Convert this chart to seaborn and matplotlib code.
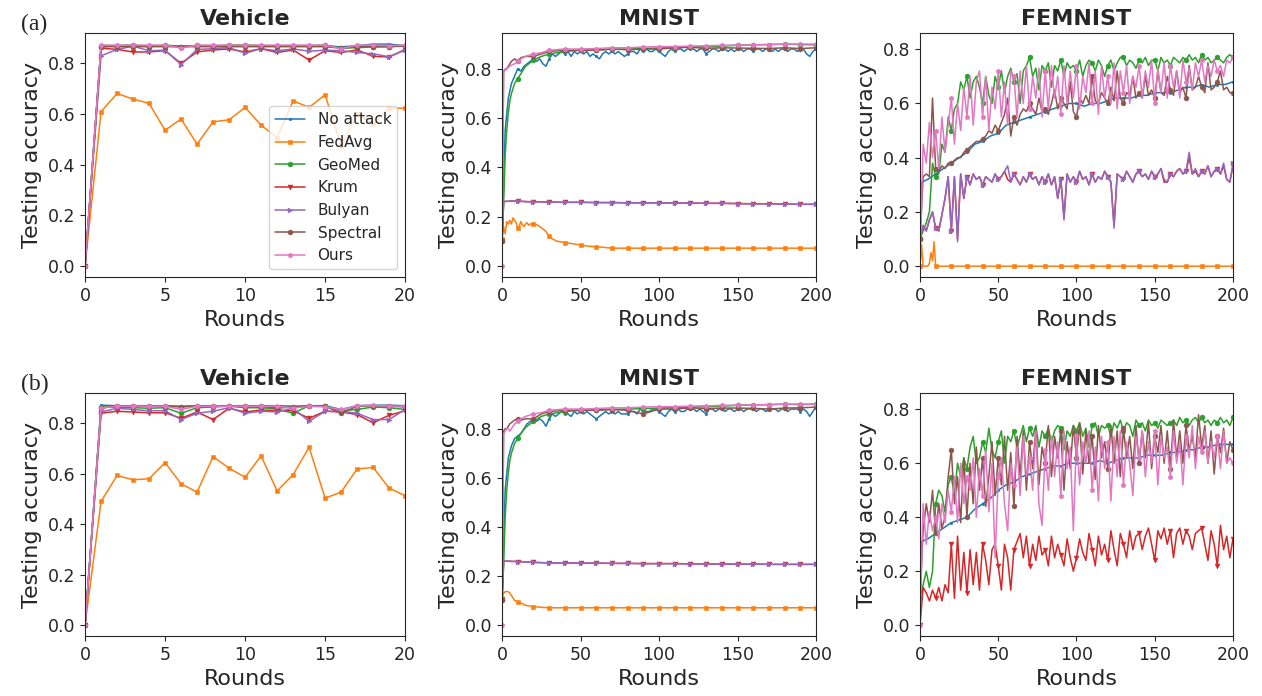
import matplotlib
matplotlib.use('Agg')
import matplotlib.pyplot as plt
import seaborn as sns

# ── series names / style ───────────────────────────────────────────────────────
methods = ['No attack', 'FedAvg', 'GeoMed', 'Krum', 'Bulyan', 'Spectral', 'Ours']
markers = ['.', 's', 'o', 'v', '>', 'o', 'p']

# ── Vehicle (rounds 0..20) ────────────────────────────────────────────────────
veh_rounds = list(range(21))

veh_a_noattack = [0, 0.870, 0.870, 0.870, 0.870, 0.870, 0.868, 0.870, 0.870, 0.870, 0.870,
                  0.870, 0.870, 0.870, 0.870, 0.870, 0.865, 0.870, 0.876, 0.876, 0.870]
veh_a_fedavg = [0, 0.609, 0.681, 0.659, 0.642, 0.536, 0.580, 0.481, 0.569, 0.577, 0.626,
                0.556, 0.507, 0.652, 0.626, 0.676, 0.474, 0.600, 0.560, 0.623, 0.623]
veh_a_geomed = [0, 0.865, 0.870, 0.873, 0.866, 0.873, 0.866, 0.871, 0.868, 0.872, 0.873,
                0.870, 0.868, 0.870, 0.870, 0.872, 0.860, 0.862, 0.865, 0.866, 0.870]
veh_a_krum = [0, 0.860, 0.855, 0.845, 0.845, 0.850, 0.800, 0.845, 0.853, 0.857, 0.845,
              0.858, 0.843, 0.853, 0.813, 0.850, 0.843, 0.853, 0.828, 0.825, 0.855]
veh_a_bulyan = [0, 0.830, 0.855, 0.868, 0.850, 0.852, 0.795, 0.855, 0.858, 0.862, 0.840,
                0.858, 0.850, 0.857, 0.848, 0.852, 0.850, 0.843, 0.838, 0.826, 0.852]
veh_a_spectral = [0, 0.866, 0.866, 0.866, 0.866, 0.866, 0.866, 0.866, 0.866, 0.866, 0.866,
                  0.866, 0.866, 0.866, 0.866, 0.866, 0.860, 0.866, 0.866, 0.866, 0.868]
veh_a_ours = [0, 0.872, 0.872, 0.872, 0.872, 0.872, 0.860, 0.872, 0.872, 0.872, 0.872,
              0.872, 0.872, 0.872, 0.872, 0.872, 0.858, 0.872, 0.872, 0.870, 0.872]

veh_b_noattack = [0, 0.872, 0.870, 0.870, 0.870, 0.870, 0.868, 0.870, 0.870, 0.870, 0.870,
                  0.870, 0.870, 0.868, 0.870, 0.870, 0.855, 0.870, 0.872, 0.872, 0.870]
veh_b_fedavg = [0, 0.490, 0.593, 0.576, 0.580, 0.644, 0.560, 0.527, 0.668, 0.622, 0.586,
                0.671, 0.532, 0.596, 0.705, 0.503, 0.527, 0.619, 0.625, 0.543, 0.513]
veh_b_geomed = [0, 0.865, 0.863, 0.862, 0.860, 0.862, 0.840, 0.862, 0.865, 0.868, 0.862,
                0.862, 0.857, 0.840, 0.870, 0.868, 0.850, 0.855, 0.865, 0.862, 0.855]
veh_b_krum = [0, 0.840, 0.848, 0.845, 0.842, 0.842, 0.820, 0.845, 0.815, 0.860, 0.845,
              0.853, 0.850, 0.850, 0.820, 0.848, 0.845, 0.835, 0.802, 0.832, 0.850]
veh_b_bulyan = [0, 0.845, 0.860, 0.855, 0.850, 0.850, 0.815, 0.840, 0.848, 0.862, 0.840,
                0.848, 0.845, 0.860, 0.808, 0.848, 0.848, 0.840, 0.815, 0.815, 0.855]
veh_b_spectral = [0, 0.860, 0.870, 0.868, 0.868, 0.868, 0.865, 0.868, 0.868, 0.868, 0.868,
                  0.868, 0.860, 0.865, 0.868, 0.868, 0.840, 0.868, 0.870, 0.868, 0.865]
veh_b_ours = [0, 0.860, 0.868, 0.868, 0.868, 0.868, 0.855, 0.868, 0.868, 0.868, 0.868,
              0.868, 0.868, 0.860, 0.868, 0.865, 0.855, 0.870, 0.872, 0.868, 0.868]

# ── MNIST / FEMNIST (rounds 0..200) ───────────────────────────────────────────
rounds_dense = list(range(0, 201, 2))
rounds_sparse = [0, 1, 2, 3, 4, 5, 6, 8, 10, 12, 15, 20, 25, 30, 40,
                 50, 60, 70, 80, 90, 100, 110, 120, 130, 140, 150, 160, 170, 180, 190, 200]
rounds_smooth = [0, 1, 5, 10, 15, 20, 25, 30, 35, 40, 45, 50, 55, 60, 65, 70, 75, 80, 85, 90, 95,
                 100, 105, 110, 115, 120, 125, 130, 135, 140, 145, 150, 155, 160, 165, 170, 175,
                 180, 185, 190, 195, 200]

mn_a_noattack = [0.10, 0.55, 0.68, 0.74, 0.77, 0.80, 0.79, 0.81, 0.82, 0.83,
                 0.84, 0.83, 0.84, 0.82, 0.81, 0.84, 0.86, 0.85, 0.86, 0.87,
                 0.86, 0.87, 0.85, 0.87, 0.86, 0.87, 0.86, 0.87, 0.85, 0.86,
                 0.85, 0.84, 0.86, 0.87, 0.86, 0.87, 0.86, 0.87, 0.86, 0.85,
                 0.86, 0.87, 0.87, 0.86, 0.88, 0.87, 0.88, 0.87, 0.87, 0.88,
                 0.87, 0.86, 0.85, 0.87, 0.88, 0.87, 0.88, 0.88, 0.87, 0.88,
                 0.88, 0.88, 0.87, 0.88, 0.88, 0.86, 0.87, 0.88, 0.88, 0.87,
                 0.88, 0.88, 0.87, 0.88, 0.87, 0.88, 0.88, 0.87, 0.88, 0.88,
                 0.87, 0.88, 0.88, 0.87, 0.88, 0.88, 0.87, 0.88, 0.87, 0.88,
                 0.88, 0.87, 0.88, 0.88, 0.87, 0.88, 0.88, 0.86, 0.85, 0.87,
                 0.88]
mn_a_fedavg_rounds = [0, 1, 2, 3, 4, 5, 6, 7, 8, 9, 10, 11, 12, 13, 14, 15, 16, 17, 18, 20,
                      22, 24, 26, 28, 30, 32, 35, 40, 45, 50, 55, 60, 65, 70,
                      80, 90, 100, 110, 120, 130, 140, 150, 160, 170, 180, 190, 200]
mn_a_fedavg = [0.11, 0.16, 0.13, 0.18, 0.17, 0.185, 0.17, 0.195, 0.185, 0.175, 0.155, 0.16,
               0.18, 0.165, 0.16, 0.17, 0.175, 0.165, 0.17, 0.17, 0.168, 0.16, 0.15, 0.14,
               0.12, 0.11, 0.10, 0.095, 0.09, 0.085, 0.08, 0.078, 0.075, 0.072,
               0.072, 0.072, 0.072, 0.072, 0.072, 0.072, 0.072, 0.072, 0.072, 0.072,
               0.072, 0.072, 0.072]
mn_a_geomed = [0.10, 0.25, 0.45, 0.55, 0.62, 0.67, 0.70, 0.74, 0.76, 0.78, 0.81, 0.835, 0.85,
               0.86, 0.87, 0.875, 0.877, 0.879, 0.88, 0.882, 0.884, 0.886, 0.888, 0.89, 0.892,
               0.895, 0.897, 0.898, 0.90, 0.898, 0.897]
mn_a_krum = [0.10, 0.26, 0.262, 0.262, 0.262, 0.263, 0.263, 0.263, 0.263, 0.262, 0.261, 0.26,
             0.26, 0.259, 0.258, 0.258, 0.257, 0.257, 0.256, 0.256, 0.256, 0.255, 0.255,
             0.254, 0.254, 0.253, 0.252, 0.252, 0.251, 0.25, 0.25]
mn_a_bulyan = [0.10, 0.26, 0.262, 0.262, 0.262, 0.263, 0.263, 0.263, 0.263, 0.262, 0.261, 0.26,
               0.26, 0.259, 0.258, 0.258, 0.257, 0.257, 0.256, 0.256, 0.256, 0.255, 0.255,
               0.254, 0.254, 0.253, 0.252, 0.252, 0.251, 0.25, 0.25]
mn_a_spectral = [0.10, 0.79, 0.795, 0.80, 0.81, 0.82, 0.83, 0.84, 0.83, 0.845, 0.85, 0.85, 0.86,
                 0.87, 0.875, 0.875, 0.875, 0.88, 0.877, 0.88, 0.88, 0.885, 0.887, 0.883,
                 0.885, 0.884, 0.883, 0.882, 0.885, 0.882, 0.885]
mn_a_ours = [0.0, 0.79, 0.80, 0.80, 0.805, 0.81, 0.815, 0.82, 0.83, 0.84, 0.85, 0.86, 0.865,
             0.875, 0.88, 0.88, 0.882, 0.885, 0.885, 0.888, 0.89, 0.89, 0.892, 0.893, 0.895,
             0.896, 0.897, 0.898, 0.90, 0.90, 0.90]

mn_b_noattack = [0.10, 0.55, 0.68, 0.73, 0.76, 0.77, 0.78, 0.80, 0.82, 0.83,
                 0.84, 0.83, 0.84, 0.83, 0.81, 0.84, 0.86, 0.85, 0.86, 0.87,
                 0.86, 0.86, 0.85, 0.87, 0.86, 0.87, 0.86, 0.87, 0.86, 0.85,
                 0.84, 0.85, 0.86, 0.87, 0.86, 0.87, 0.86, 0.87, 0.86, 0.86,
                 0.86, 0.87, 0.87, 0.86, 0.88, 0.87, 0.87, 0.87, 0.88, 0.88,
                 0.87, 0.86, 0.85, 0.87, 0.88, 0.87, 0.88, 0.87, 0.87, 0.88,
                 0.88, 0.88, 0.87, 0.88, 0.87, 0.86, 0.88, 0.88, 0.87, 0.88,
                 0.88, 0.87, 0.88, 0.88, 0.87, 0.88, 0.88, 0.87, 0.88, 0.88,
                 0.88, 0.87, 0.88, 0.88, 0.87, 0.88, 0.88, 0.88, 0.87, 0.88,
                 0.88, 0.87, 0.88, 0.88, 0.88, 0.87, 0.88, 0.87, 0.85, 0.87,
                 0.89]
mn_b_fedavg_rounds = [0, 1, 2, 3, 4, 5, 6, 7, 8, 10, 12, 15, 20, 25, 30,
                      40, 50, 60, 70, 80, 90, 100, 110, 120, 130, 140, 150, 160, 170, 180, 190, 200]
mn_b_fedavg = [0.11, 0.13, 0.135, 0.137, 0.135, 0.13, 0.12, 0.11, 0.10, 0.095, 0.09, 0.08,
               0.075, 0.072, 0.07, 0.07, 0.07, 0.07, 0.07, 0.07, 0.07, 0.07, 0.07, 0.07,
               0.07, 0.07, 0.07, 0.07, 0.07, 0.07, 0.07, 0.07]
mn_b_geomed = [0.10, 0.24, 0.44, 0.55, 0.62, 0.67, 0.70, 0.74, 0.76, 0.78, 0.805, 0.83, 0.85,
               0.86, 0.87, 0.875, 0.877, 0.879, 0.88, 0.882, 0.884, 0.886, 0.888, 0.89, 0.892,
               0.895, 0.897, 0.898, 0.90, 0.898, 0.90]
mn_b_krum = [0.10, 0.26, 0.26, 0.26, 0.26, 0.26, 0.259, 0.259, 0.258, 0.258, 0.257, 0.255,
             0.254, 0.253, 0.253, 0.252, 0.252, 0.251, 0.251, 0.25, 0.25, 0.25, 0.249, 0.249,
             0.248, 0.248, 0.248, 0.247, 0.247, 0.247, 0.247]
mn_b_bulyan = [0.10, 0.26, 0.26, 0.26, 0.26, 0.26, 0.259, 0.259, 0.258, 0.258, 0.257, 0.255,
               0.254, 0.253, 0.253, 0.252, 0.252, 0.251, 0.251, 0.25, 0.25, 0.25, 0.249, 0.249,
               0.248, 0.248, 0.248, 0.247, 0.247, 0.247, 0.247]
mn_b_spectral = [0.10, 0.79, 0.80, 0.80, 0.81, 0.82, 0.825, 0.835, 0.84, 0.835, 0.84, 0.84,
                 0.86, 0.87, 0.875, 0.875, 0.875, 0.878, 0.875, 0.86, 0.88, 0.88, 0.885,
                 0.882, 0.884, 0.884, 0.883, 0.88, 0.884, 0.885, 0.888]
mn_b_ours = [0.0, 0.78, 0.79, 0.80, 0.80, 0.79, 0.80, 0.82, 0.83, 0.84, 0.85, 0.86, 0.865,
             0.875, 0.88, 0.88, 0.882, 0.885, 0.885, 0.888, 0.89, 0.89, 0.892, 0.893, 0.895,
             0.896, 0.897, 0.898, 0.90, 0.90, 0.90]

fe_a_noattack = [0.10, 0.31, 0.32, 0.34, 0.36, 0.38, 0.40, 0.42, 0.45, 0.46, 0.48, 0.49, 0.52,
                 0.53, 0.54, 0.55, 0.56, 0.57, 0.58, 0.59, 0.60, 0.60, 0.59, 0.60, 0.60, 0.61,
                 0.62, 0.62, 0.62, 0.63, 0.63, 0.64, 0.64, 0.64, 0.65, 0.66, 0.66, 0.67, 0.66,
                 0.67, 0.67, 0.68]
fe_a_fedavg_rounds = [0, 1, 2, 3, 4, 5, 6, 7, 8, 9, 10, 20, 30, 40, 50, 60, 70, 80, 90, 100,
                      110, 120, 130, 140, 150, 160, 170, 180, 190, 200]
fe_a_fedavg = [0.0, 0.08, 0.0, 0.0, 0.0, 0.0, 0.01, 0.05, 0.02, 0.09, 0.0, 0.0, 0.0, 0.0, 0.0,
               0.0, 0.0, 0.0, 0.0, 0.0, 0.0, 0.0, 0.0, 0.0, 0.0, 0.0, 0.0, 0.0, 0.0, 0.0]
fe_a_geomed = [0.10, 0.13, 0.16, 0.20, 0.38, 0.33, 0.34, 0.45, 0.42, 0.55,
               0.50, 0.58, 0.60, 0.68, 0.65, 0.70, 0.62, 0.68, 0.70, 0.66,
               0.60, 0.70, 0.63, 0.60, 0.70, 0.66, 0.72, 0.64, 0.70, 0.73,
               0.68, 0.71, 0.60, 0.72, 0.74, 0.77, 0.70, 0.73, 0.65, 0.74,
               0.72, 0.75, 0.66, 0.74, 0.72, 0.76, 0.70, 0.75, 0.73, 0.74,
               0.72, 0.76, 0.70, 0.74, 0.76, 0.75, 0.72, 0.76, 0.74, 0.70,
               0.74, 0.76, 0.72, 0.75, 0.77, 0.77, 0.74, 0.76, 0.75, 0.73,
               0.76, 0.75, 0.77, 0.74, 0.76, 0.76, 0.72, 0.77, 0.75, 0.76,
               0.74, 0.77, 0.76, 0.75, 0.77, 0.76, 0.78, 0.76, 0.77, 0.75,
               0.78, 0.76, 0.77, 0.75, 0.76, 0.77, 0.76, 0.75, 0.77, 0.78,
               0.77]
fe_a_krum = [0.10, 0.15, 0.13, 0.17, 0.20, 0.14, 0.13, 0.19, 0.25, 0.33,
             0.13, 0.33, 0.10, 0.34, 0.25, 0.33, 0.30, 0.34, 0.32, 0.33,
             0.30, 0.33, 0.32, 0.31, 0.34, 0.32, 0.33, 0.35, 0.32, 0.31,
             0.34, 0.32, 0.30, 0.33, 0.31, 0.34, 0.32, 0.33, 0.30, 0.33,
             0.31, 0.34, 0.30, 0.33, 0.25, 0.32, 0.18, 0.34, 0.31, 0.33,
             0.31, 0.35, 0.32, 0.33, 0.30, 0.34, 0.31, 0.33, 0.32, 0.35,
             0.33, 0.31, 0.15, 0.34, 0.33, 0.32, 0.35, 0.33, 0.31, 0.34,
             0.35, 0.33, 0.34, 0.32, 0.35, 0.33, 0.34, 0.36, 0.31, 0.31,
             0.34, 0.33, 0.35, 0.36, 0.34, 0.35, 0.40, 0.34, 0.35, 0.33,
             0.35, 0.34, 0.37, 0.33, 0.35, 0.36, 0.34, 0.37, 0.32, 0.31,
             0.37]
fe_a_bulyan = [0.10, 0.15, 0.13, 0.17, 0.20, 0.14, 0.13, 0.19, 0.25, 0.33,
               0.13, 0.33, 0.09, 0.34, 0.25, 0.33, 0.30, 0.34, 0.32, 0.33,
               0.30, 0.33, 0.32, 0.31, 0.34, 0.32, 0.33, 0.35, 0.37, 0.31,
               0.34, 0.32, 0.30, 0.33, 0.31, 0.34, 0.32, 0.33, 0.30, 0.33,
               0.31, 0.34, 0.30, 0.33, 0.25, 0.32, 0.17, 0.34, 0.31, 0.33,
               0.31, 0.35, 0.32, 0.33, 0.30, 0.34, 0.31, 0.33, 0.32, 0.35,
               0.33, 0.31, 0.14, 0.34, 0.33, 0.32, 0.35, 0.33, 0.31, 0.34,
               0.35, 0.33, 0.34, 0.32, 0.35, 0.33, 0.34, 0.36, 0.32, 0.31,
               0.34, 0.33, 0.35, 0.36, 0.34, 0.35, 0.42, 0.34, 0.36, 0.33,
               0.35, 0.34, 0.37, 0.33, 0.35, 0.36, 0.34, 0.38, 0.32, 0.31,
               0.38]
fe_a_spectral = [0.10, 0.33, 0.34, 0.33, 0.62, 0.36, 0.35, 0.37, 0.36, 0.38,
                 0.38, 0.39, 0.40, 0.40, 0.42, 0.43, 0.44, 0.45, 0.46, 0.46,
                 0.47, 0.48, 0.50, 0.49, 0.52, 0.50, 0.53, 0.56, 0.62, 0.48,
                 0.55, 0.52, 0.56, 0.58, 0.57, 0.60, 0.58, 0.56, 0.62, 0.57,
                 0.58, 0.56, 0.60, 0.65, 0.58, 0.62, 0.60, 0.58, 0.68, 0.57,
                 0.55, 0.62, 0.60, 0.63, 0.60, 0.70, 0.61, 0.60, 0.64, 0.62,
                 0.60, 0.66, 0.61, 0.72, 0.62, 0.60, 0.64, 0.63, 0.70, 0.62,
                 0.64, 0.62, 0.70, 0.63, 0.65, 0.62, 0.72, 0.64, 0.63, 0.70,
                 0.65, 0.63, 0.72, 0.64, 0.66, 0.62, 0.74, 0.65, 0.66, 0.70,
                 0.66, 0.64, 0.75, 0.65, 0.66, 0.68, 0.72, 0.65, 0.66, 0.64,
                 0.64]
fe_a_ours = [0.00, 0.45, 0.38, 0.53, 0.40, 0.50, 0.36, 0.55, 0.42, 0.52,
             0.62, 0.45, 0.60, 0.50, 0.66, 0.55, 0.70, 0.52, 0.68, 0.72,
             0.55, 0.70, 0.50, 0.66, 0.58, 0.72, 0.55, 0.68, 0.52, 0.72,
             0.70, 0.55, 0.72, 0.60, 0.74, 0.58, 0.70, 0.62, 0.73, 0.55,
             0.72, 0.58, 0.74, 0.62, 0.70, 0.56, 0.74, 0.60, 0.72, 0.62,
             0.74, 0.58, 0.70, 0.64, 0.75, 0.60, 0.72, 0.56, 0.74, 0.62,
             0.70, 0.60, 0.75, 0.58, 0.72, 0.64, 0.74, 0.60, 0.70, 0.66,
             0.74, 0.62, 0.72, 0.66, 0.76, 0.60, 0.73, 0.64, 0.75, 0.62,
             0.74, 0.66, 0.72, 0.62, 0.76, 0.68, 0.73, 0.65, 0.75, 0.70,
             0.76, 0.68, 0.74, 0.70, 0.76, 0.72, 0.74, 0.70, 0.76, 0.75,
             0.77]

fe_b_noattack = [0.10, 0.31, 0.32, 0.34, 0.36, 0.38, 0.39, 0.40, 0.43, 0.45, 0.47, 0.50, 0.52,
                 0.53, 0.55, 0.56, 0.57, 0.58, 0.59, 0.59, 0.60, 0.60, 0.60, 0.60, 0.61, 0.60,
                 0.61, 0.62, 0.62, 0.62, 0.63, 0.63, 0.63, 0.64, 0.64, 0.65, 0.65, 0.66, 0.66,
                 0.67, 0.67, 0.67]
fe_b_geomed = [0.10, 0.15, 0.20, 0.14, 0.20, 0.45, 0.50, 0.48, 0.42, 0.52,
               0.55, 0.48, 0.60, 0.55, 0.62, 0.58, 0.66, 0.70, 0.60, 0.62,
               0.68, 0.64, 0.73, 0.65, 0.62, 0.68, 0.72, 0.60, 0.70, 0.68,
               0.72, 0.66, 0.70, 0.74, 0.68, 0.73, 0.70, 0.74, 0.66, 0.72,
               0.70, 0.73, 0.68, 0.72, 0.74, 0.73, 0.65, 0.72, 0.70, 0.74,
               0.72, 0.75, 0.70, 0.73, 0.66, 0.74, 0.75, 0.70, 0.74, 0.73,
               0.74, 0.70, 0.75, 0.73, 0.76, 0.72, 0.75, 0.74, 0.70, 0.76,
               0.74, 0.75, 0.72, 0.76, 0.74, 0.75, 0.73, 0.76, 0.75, 0.74,
               0.75, 0.76, 0.74, 0.77, 0.75, 0.76, 0.74, 0.76, 0.77, 0.75,
               0.77, 0.75, 0.76, 0.74, 0.76, 0.75, 0.77, 0.75, 0.76, 0.74,
               0.77]
fe_b_krum = [0.00, 0.14, 0.12, 0.09, 0.13, 0.10, 0.14, 0.09, 0.15, 0.12,
             0.30, 0.10, 0.33, 0.13, 0.27, 0.12, 0.28, 0.15, 0.27, 0.13,
             0.30, 0.24, 0.15, 0.28, 0.30, 0.22, 0.13, 0.30, 0.25, 0.13,
             0.28, 0.31, 0.34, 0.25, 0.33, 0.22, 0.30, 0.24, 0.33, 0.26,
             0.28, 0.22, 0.33, 0.25, 0.30, 0.26, 0.22, 0.32, 0.25, 0.20,
             0.25, 0.32, 0.27, 0.24, 0.34, 0.28, 0.22, 0.33, 0.26, 0.30,
             0.24, 0.35, 0.28, 0.22, 0.34, 0.30, 0.25, 0.35, 0.28, 0.33,
             0.34, 0.28, 0.33, 0.36, 0.30, 0.24, 0.35, 0.32, 0.36, 0.30,
             0.35, 0.25, 0.34, 0.36, 0.30, 0.35, 0.33, 0.28, 0.34, 0.35,
             0.36, 0.30, 0.24, 0.35, 0.30, 0.22, 0.37, 0.28, 0.33, 0.25,
             0.32]
fe_b_spectral = [0.10, 0.35, 0.45, 0.38, 0.50, 0.34, 0.45, 0.36, 0.40, 0.55,
                 0.65, 0.45, 0.55, 0.38, 0.62, 0.40, 0.60, 0.45, 0.66, 0.50,
                 0.62, 0.44, 0.55, 0.68, 0.48, 0.62, 0.52, 0.70, 0.50, 0.64,
                 0.44, 0.70, 0.55, 0.72, 0.50, 0.68, 0.58, 0.73, 0.52, 0.66,
                 0.60, 0.74, 0.55, 0.70, 0.62, 0.72, 0.50, 0.68, 0.58, 0.74,
                 0.62, 0.75, 0.56, 0.72, 0.60, 0.70, 0.54, 0.74, 0.62, 0.68,
                 0.58, 0.74, 0.60, 0.72, 0.55, 0.73, 0.62, 0.70, 0.58, 0.74,
                 0.60, 0.72, 0.62, 0.75, 0.58, 0.70, 0.64, 0.74, 0.60, 0.72,
                 0.58, 0.76, 0.62, 0.72, 0.60, 0.74, 0.65, 0.70, 0.62, 0.78,
                 0.66, 0.74, 0.60, 0.72, 0.56, 0.70, 0.64, 0.73, 0.60, 0.68,
                 0.65]
fe_b_ours = [0.00, 0.45, 0.30, 0.42, 0.35, 0.40, 0.32, 0.45, 0.38, 0.50,
             0.42, 0.55, 0.38, 0.60, 0.45, 0.55, 0.50, 0.62, 0.40, 0.58,
             0.48, 0.65, 0.42, 0.60, 0.25, 0.55, 0.62, 0.45, 0.35, 0.60,
             0.52, 0.66, 0.48, 0.70, 0.55, 0.62, 0.50, 0.72, 0.45, 0.37,
             0.65, 0.50, 0.70, 0.55, 0.68, 0.48, 0.72, 0.58, 0.66, 0.35,
             0.70, 0.52, 0.68, 0.60, 0.72, 0.50, 0.66, 0.46, 0.70, 0.58,
             0.68, 0.46, 0.70, 0.55, 0.72, 0.52, 0.68, 0.60, 0.48, 0.70,
             0.62, 0.72, 0.55, 0.68, 0.60, 0.72, 0.52, 0.70, 0.62, 0.66,
             0.55, 0.72, 0.60, 0.68, 0.52, 0.70, 0.62, 0.74, 0.58, 0.70,
             0.64, 0.72, 0.60, 0.68, 0.62, 0.70, 0.58, 0.72, 0.60, 0.62,
             0.60]

# ── panels: (title, xlim, ylim, xticks, [(method index, rounds, values), ...]) ─
panels = [
    ('Vehicle', (0, 20), (-0.044, 0.92), [0, 5, 10, 15, 20], [
        (0, veh_rounds, veh_a_noattack), (1, veh_rounds, veh_a_fedavg),
        (2, veh_rounds, veh_a_geomed), (3, veh_rounds, veh_a_krum),
        (4, veh_rounds, veh_a_bulyan), (5, veh_rounds, veh_a_spectral),
        (6, veh_rounds, veh_a_ours)]),
    ('MNIST', (0, 200), (-0.045, 0.945), [0, 50, 100, 150, 200], [
        (0, rounds_dense, mn_a_noattack), (1, mn_a_fedavg_rounds, mn_a_fedavg),
        (2, rounds_sparse, mn_a_geomed), (3, rounds_sparse, mn_a_krum),
        (4, rounds_sparse, mn_a_bulyan), (5, rounds_sparse, mn_a_spectral),
        (6, rounds_sparse, mn_a_ours)]),
    ('FEMNIST', (0, 200), (-0.04, 0.86), [0, 50, 100, 150, 200], [
        (0, rounds_smooth, fe_a_noattack), (1, fe_a_fedavg_rounds, fe_a_fedavg),
        (2, rounds_dense, fe_a_geomed), (3, rounds_dense, fe_a_krum),
        (4, rounds_dense, fe_a_bulyan), (5, rounds_dense, fe_a_spectral),
        (6, rounds_dense, fe_a_ours)]),
    ('Vehicle', (0, 20), (-0.044, 0.92), [0, 5, 10, 15, 20], [
        (0, veh_rounds, veh_b_noattack), (1, veh_rounds, veh_b_fedavg),
        (2, veh_rounds, veh_b_geomed), (3, veh_rounds, veh_b_krum),
        (4, veh_rounds, veh_b_bulyan), (5, veh_rounds, veh_b_spectral),
        (6, veh_rounds, veh_b_ours)]),
    ('MNIST', (0, 200), (-0.045, 0.945), [0, 50, 100, 150, 200], [
        (0, rounds_dense, mn_b_noattack), (1, mn_b_fedavg_rounds, mn_b_fedavg),
        (2, rounds_sparse, mn_b_geomed), (3, rounds_sparse, mn_b_krum),
        (4, rounds_sparse, mn_b_bulyan), (5, rounds_sparse, mn_b_spectral),
        (6, rounds_sparse, mn_b_ours)]),
    ('FEMNIST', (0, 200), (-0.04, 0.86), [0, 50, 100, 150, 200], [
        (0, rounds_smooth, fe_b_noattack), (2, rounds_dense, fe_b_geomed),
        (3, rounds_dense, fe_b_krum), (5, rounds_dense, fe_b_spectral),
        (6, rounds_dense, fe_b_ours)]),
]

sns.set_style('ticks')
plt.rcParams['font.family'] = ['DejaVu Sans']
colors = sns.color_palette('tab10', 7)

fig = plt.figure(figsize=(12.62, 6.96), dpi=100)
lefts = [0.0674, 0.3978, 0.729]
widths = [0.2536, 0.2488, 0.248]
bottoms = [0.602, 0.0862]
heights = [0.3506, 0.349]

for p, (title, xlim, ylim, xticks, series) in enumerate(panels):
    row, col = divmod(p, 3)
    ax = fig.add_axes([lefts[col], bottoms[row], widths[col], heights[row]])
    for k, xs, ys in series:
        every = [i for i, r in enumerate(xs) if r % 10 == 0] if xlim[1] > 20 else None
        sns.lineplot(x=xs, y=ys, ax=ax, color=colors[k], marker=markers[k], markersize=3.5,
                     markevery=every, markeredgecolor=colors[k], markeredgewidth=0.4,
                     linewidth=1.1, label=methods[k], errorbar=None, sort=False)
    ax.set_xlim(*xlim)
    ax.set_ylim(*ylim)
    ax.set_xticks(xticks)
    ax.set_yticks([0.0, 0.2, 0.4, 0.6, 0.8])
    ax.tick_params(labelsize=12.5)
    ax.set_title(title, fontsize=16, fontweight='bold')
    ax.set_xlabel('Rounds', fontsize=16)
    ax.set_ylabel('Testing accuracy', fontsize=16)
    if p == 0:
        ax.legend(loc='lower right', fontsize=11)
    elif ax.get_legend() is not None:
        ax.get_legend().remove()

fig.text(0.017, 1 - 24 / 696, '(a)', family='Liberation Serif', fontsize=17, va='center')
fig.text(0.017, 1 - 384 / 696, '(b)', family='Liberation Serif', fontsize=17, va='center')

plt.savefig('out.png', dpi=100)
